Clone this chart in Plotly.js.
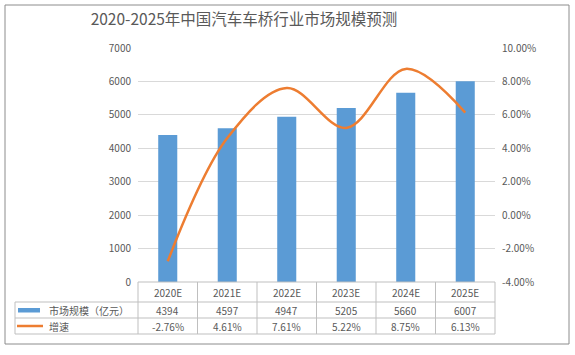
<!DOCTYPE html>
<html><head><meta charset="utf-8">
<script src="https://cdn.plot.ly/plotly-3.0.1.min.js"></script>
<style>body{margin:0;background:#fff}#c{width:575px;height:355px}</style>
</head><body><div id="c"></div>
<script>
const categories = ['2020E','2021E','2022E','2023E','2024E','2025E'];
const marketSize = [4394, 4597, 4947, 5205, 5660, 6007];
const growth = [-2.76, 4.61, 7.61, 5.22, 8.75, 6.13];
const seriesNames = ['市场规模（亿元）', '增速'];
const leftTicks = [0,1000,2000,3000,4000,5000,6000,7000];
const rightTicks = [-4,-2,0,2,4,6,8,10];

const F = '"Noto Sans CJK SC", "Microsoft YaHei", sans-serif';
const gray = '#595959';
const border = '#BFBFBF';
const blue = '#5B9BD5', orange = '#ED7D31';

// pixel helpers -> paper coords (plot area x 138..495, y 48..282)
const L=138, R=495, T=48, B=282;
const px = v => (v - L)/(R - L);
const py = v => (B - v)/(B - T);

const traces = [
  {type:'bar', x:categories, y:marketSize, name:seriesNames[0], marker:{color:blue}, width:0.32, yaxis:'y'},
  {type:'scatter', mode:'lines', x:categories, y:growth, name:seriesNames[1], yaxis:'y2',
   line:{color:orange, width:2.5, shape:'spline', smoothing:1}}
];

const shapes = [];
const annotations = [];
// outer border
shapes.push({type:'rect', xref:'paper', yref:'paper', x0:px(5), x1:px(569), y0:py(5), y1:py(344), line:{color:'#8C8C8C', width:1}});
// table horizontal lines
shapes.push({type:'line', xref:'paper', yref:'paper', x0:px(138), x1:px(495), y0:py(282), y1:py(282), line:{color:border, width:1}});
[302,318,334].forEach(y=>shapes.push({type:'line', xref:'paper', yref:'paper', x0:px(15), x1:px(495), y0:py(y), y1:py(y), line:{color:border, width:1}}));
// vertical lines
shapes.push({type:'line', xref:'paper', yref:'paper', x0:px(15), x1:px(15), y0:py(302), y1:py(334), line:{color:border, width:1}});
for (let i=0;i<=categories.length;i++){
  const xv = L + i*(R-L)/categories.length;
  shapes.push({type:'line', xref:'paper', yref:'paper', x0:px(xv), x1:px(xv), y0:py(282), y1:py(334), line:{color:border, width:1}});
}
// legend keys
shapes.push({type:'rect', xref:'paper', yref:'paper', x0:px(18), x1:px(40), y0:py(308), y1:py(312.5), fillcolor:blue, line:{width:0}});
shapes.push({type:'line', xref:'paper', yref:'paper', x0:px(17), x1:px(43), y0:py(326), y1:py(326), line:{color:orange, width:2.5}});

const tf = {family:F, size:10, color:gray};
annotations.push({xref:'paper', yref:'paper', x:px(47), y:py(310), xanchor:'left', yanchor:'middle', text:seriesNames[0], showarrow:false, font:tf});
annotations.push({xref:'paper', yref:'paper', x:px(47), y:py(326), xanchor:'left', yanchor:'middle', text:seriesNames[1], showarrow:false, font:tf});
categories.forEach((c,i)=>{
  annotations.push({xref:'x', yref:'paper', x:c, y:py(292), yanchor:'middle', text:c, showarrow:false, font:tf});
  annotations.push({xref:'x', yref:'paper', x:c, y:py(310), yanchor:'middle', text:String(marketSize[i]), showarrow:false, font:tf});
  annotations.push({xref:'x', yref:'paper', x:c, y:py(326), yanchor:'middle', text:growth[i].toFixed(2)+'%', showarrow:false, font:tf});
});

const layout = {
  width:575, height:355,
  margin:{l:L, r:575-R, t:T, b:355-B},
  paper_bgcolor:'#fff', plot_bgcolor:'#fff',
  showlegend:false,
  title:{text:'2020-2025年中国汽车车桥行业市场规模预测', font:{family:F, size:15.5, color:'#595959'}, x:244/575, xanchor:'center', y:1-20/355, yanchor:'middle'},
  xaxis:{type:'category', showticklabels:false, showgrid:false, zeroline:false, showline:false, ticks:''},
  yaxis:{range:[0,7000], tickvals:leftTicks, ticktext:leftTicks.map(String), showgrid:true, gridcolor:'#D9D9D9', gridwidth:1, zeroline:false, showline:false, ticks:'', ticklabelstandoff:6, tickfont:{family:F, size:10, color:gray}},
  yaxis2:{overlaying:'y', side:'right', range:[-4,10], tickvals:rightTicks, ticktext:rightTicks.map(v=>(v<0?'-':'')+Math.abs(v).toFixed(2)+'%'), showgrid:false, zeroline:false, showline:false, ticks:'', ticklabelstandoff:6, tickfont:{family:F, size:10, color:gray}},
  shapes:shapes, annotations:annotations
};
Plotly.newPlot('c', traces, layout, {displayModeBar:false, staticPlot:true});
</script></body></html>
